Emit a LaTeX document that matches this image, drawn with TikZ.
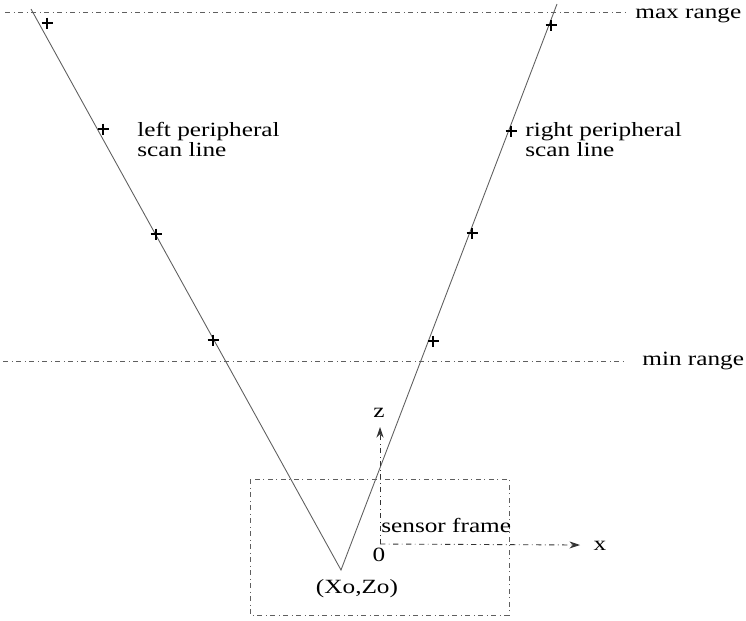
\documentclass[tikz,border=0pt]{standalone}
\usepackage{fontspec}
\setmainfont{Liberation Serif}[FakeStretch=1.25]
\usetikzlibrary{positioning, arrows.meta, calc}
\definecolor{scangray}{RGB}{95,95,95}
\tikzset{
    rangeline/.style={dash dot, line width=0.5pt, color=scangray},
    scanline/.style={line width=0.5pt, color=scangray},
    framebox/.style={dash dot, line width=0.5pt, color=scangray},
    axisarr/.style={-{Stealth[length=6pt, width=4pt]}, dash dot, line width=0.5pt, color=black!80},
    lbl/.style={font=\fontsize{11.5}{11.4}\selectfont, inner sep=0pt, align=left},
    plusmark/.style={line width=0.6pt, color=black}
}

\begin{document}
\begin{tikzpicture}[x=0.02cm, y=-0.02cm]
            \useasboundingbox (0,0) rectangle (746,620);
            % range limits
            \coordinate (maxW) at (5,12);
            \coordinate (maxE) at (627,12);
            \coordinate (minW) at (3,361);
            \coordinate (minE) at (627,361);
            \draw[rangeline] (maxW) -- (maxE);
            \draw[rangeline] (minW) -- (minE);
            \node[lbl, anchor=base west] (maxlbl) at (635,18) {max range};
            \node[lbl, anchor=base west] (minlbl) at (642,365) {min range};
            % peripheral scan lines
            \coordinate (xozo) at (341,570);
            \coordinate (ltop) at (31,9);
            \coordinate (rtop) at (557,4);
            \draw[scanline] (ltop) -- (xozo) -- (rtop);
            \foreach \px/\py in {47/23, 103/129, 156/234, 213/340, 551/25, 511/131, 472/233, 433/341}
                \draw[plusmark] (\px-5.5,\py) -- (\px+5.5,\py) (\px,\py-5.5) -- (\px,\py+5.5);
            \node[lbl, anchor=north west] (leftlbl) at (137,122) {left peripheral\\scan line};
            \node[lbl, anchor=north west] (rightlbl) at (525,122) {right peripheral\\scan line};
            % sensor frame
            \draw[framebox] (250,479) rectangle (509,615);
            \coordinate (orig) at (380,544);
            \coordinate (ztip) at (380,427);
            \coordinate (xtip) at (580,545);
            \draw[axisarr] (orig) -- (ztip);
            \draw[axisarr] (orig) -- (xtip);
            \node[lbl] (zlbl) at (379,413) {z};
            \node[lbl] (xlbl) at (600,546) {x};
            \node[lbl, anchor=base west] (framelbl) at (381,532) {sensor frame};
            \node[lbl, anchor=north] (origlbl) at (379,548) {0};
            \node[lbl] (xozolbl) at (357,589) {(Xo,Zo)};
        \end{tikzpicture}
\end{document}
